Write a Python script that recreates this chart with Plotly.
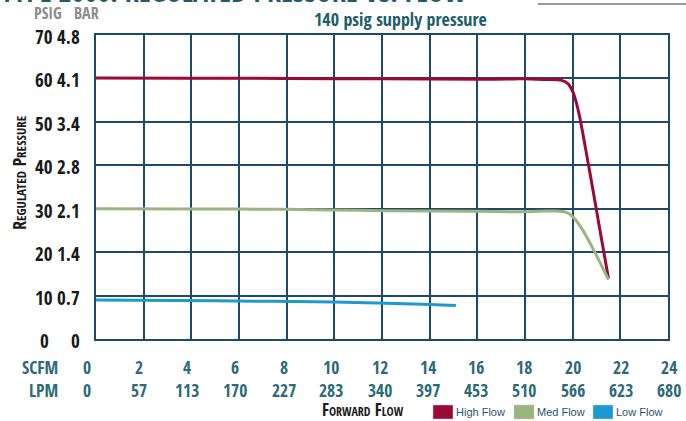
import plotly.graph_objects as go

# ---- data ----
high_x = [0, 4, 8, 12, 16, 17.5, 18, 18.5, 19, 19.5, 19.8, 20.0, 20.15, 20.3, 20.7, 21.1, 21.5]
high_y = [60.1, 60.05, 60.0, 59.9, 59.8, 59.85, 59.95, 59.8, 59.75, 59.6, 58.8, 57.0, 54.5, 51.0, 39.0, 26.5, 14.0]
med_x = [0, 4, 8, 10, 12, 16, 18, 18.8, 19.3, 19.7, 20.0, 20.4, 20.9, 21.5]
med_y = [30.0, 29.95, 29.85, 29.7, 29.55, 29.4, 29.3, 29.45, 29.45, 29.2, 28.2, 25.3, 20.3, 13.7]
low_x = [0, 5, 10, 13.7, 15.1]
low_y = [9.0, 8.8, 8.5, 8.0, 7.7]

series_names = ["High Flow", "Med Flow", "Low Flow"]
series_colors = ["#9b0a36", "#9cb47f", "#1a9ad0"]

scfm_ticks = [0, 2, 4, 6, 8, 10, 12, 14, 16, 18, 20, 22, 24]
lpm_labels = ["0", "57", "113", "170", "227", "283", "340", "397", "453", "510", "566", "623", "680"]
psig_ticks = [0, 10, 20, 30, 40, 50, 60, 70]
bar_labels = ["0", "0.7", "1.4", "2.1", "2.8", "3.4", "4.1", "4.8"]

W, H = 686, 421
L, R, T, B = 96, 668, 35, 339
COND = "Open Sans Condensed"
GRID = "#1d4a6b"
TEAL = "#2b6a78"


def px(x):
    return (x - L) / (R - L)


def py(y):
    return (B - y) / (B - T)


fig = go.Figure()
for xs, ys, name, col in zip([high_x, med_x, low_x], [high_y, med_y, low_y], series_names, series_colors):
    fig.add_trace(go.Scatter(x=xs, y=ys, mode="lines", name=name,
                             line=dict(color=col, width=3, shape="spline", smoothing=0.6),
                             showlegend=False, hoverinfo="skip"))

ann = []
# x tick labels: SCFM row and LPM row, stacked in one text per column
for v, lp in zip(scfm_ticks, lpm_labels):
    sh = -9 if v == 0 else round(-5.2 + 0.26 * v)
    ann.append(dict(x=v, xref="x", y=py(378), yref="paper", text=f"{v}<br>{lp}", showarrow=False,
                    xshift=sh, align="center", borderpad=0, font=dict(family=COND, size=17.5, color=TEAL),
                    xanchor="center", yanchor="middle"))
ann.append(dict(x=px(59), xref="paper", y=py(378), yref="paper", text="SCFM<br>LPM", showarrow=False,
                align="right", xanchor="right", yanchor="middle", borderpad=0,
                font=dict(family=COND, size=17.5, color=TEAL)))

# y tick labels (PSIG and BAR columns)
for v, b in zip(psig_ticks, bar_labels):
    ann.append(dict(x=px(44), xref="paper", y=v, yref="y", yshift=-2, text=str(v), showarrow=False,
                    borderpad=0, xanchor="center", yanchor="middle", font=dict(family=COND, size=19, color="#1a1a1a")))
    ann.append(dict(x=px(81), xref="paper", y=v, yref="y", yshift=-2, text=b, showarrow=False,
                    borderpad=0, xanchor="right", yanchor="middle", font=dict(family=COND, size=19, color="#1a1a1a")))

# column headers
ann.append(dict(x=px(48), xref="paper", y=py(13), yref="paper", text="PSIG", showarrow=False, borderpad=0,
                xanchor="center", yanchor="middle", font=dict(family=COND, size=16, color="#8c8c8c")))
ann.append(dict(x=px(86), xref="paper", y=py(13), yref="paper", text="BAR", showarrow=False, borderpad=0,
                xanchor="center", yanchor="middle", font=dict(family=COND, size=16, color="#8c8c8c")))

# subtitle
ann.append(dict(x=px(400), xref="paper", y=py(19), yref="paper", text="140 psig supply pressure", showarrow=False,
                borderpad=0, xanchor="center", yanchor="middle", font=dict(family=COND, size=18, color="#1e5e6a")))

# cut-off main title at very top (only its lower edge is visible, as in the reference)
ann.append(dict(x=px(0), xref="paper", y=py(11), yref="paper",
                text="TYPE 2000: REGULATED PRESSURE VS. FLOW", showarrow=False, borderpad=0,
                xanchor="left", yanchor="bottom", font=dict(family=COND, size=28, color="#1e5e6a")))

# y axis title (small caps)
ann.append(dict(x=px(19), xref="paper", y=py(173), yref="paper",
                text="Regulated Pressure", borderpad=0,
                showarrow=False, textangle=-90, xanchor="center", yanchor="middle",
                font=dict(family=COND, size=18, color="#1a1a1a", variant="small-caps")))

# x axis title (small caps)
ann.append(dict(x=px(363), xref="paper", y=py(409.5), yref="paper",
                text="Forward Flow", borderpad=0,
                showarrow=False, xanchor="center", yanchor="middle",
                font=dict(family=COND, size=17, color="#1a1a1a", variant="small-caps")))

shapes = []
# legend boxes + labels
box_x = [433, 514, 593]
for bx, name, col in zip(box_x, series_names, series_colors):
    shapes.append(dict(type="rect", xref="paper", yref="paper", x0=px(bx), x1=px(bx + 20),
                       y0=py(419), y1=py(405), fillcolor=col, line=dict(color="#cccccc", width=0.5)))
    ann.append(dict(x=px(bx + 22), xref="paper", y=py(412), yref="paper", text=name, showarrow=False,
                    borderpad=0, xanchor="left", yanchor="middle",
                    font=dict(family="Liberation Sans, Arial", size=11, color="#2a5470")))

# grey rule at top right
shapes.append(dict(type="line", xref="paper", yref="paper", x0=px(538), x1=px(690), y0=py(4), y1=py(4),
                   line=dict(color="#9a9a9a", width=2)))

fig.update_layout(
    width=W, height=H,
    margin=dict(l=L, r=W - R, t=T, b=H - B, pad=0),
    paper_bgcolor="white", plot_bgcolor="white",
    annotations=ann, shapes=shapes, showlegend=False,
)
fig.update_xaxes(range=[0, 24], dtick=2, tick0=0, showgrid=True, gridcolor=GRID, gridwidth=1.5,
                 showticklabels=False, zeroline=False, showline=True, linecolor=GRID, linewidth=1.5,
                 mirror=True, ticks="")
fig.update_yaxes(range=[0, 70], dtick=10, tick0=0, showgrid=True, gridcolor=GRID, gridwidth=1.5,
                 showticklabels=False, zeroline=False, showline=True, linecolor=GRID, linewidth=1.5,
                 mirror=True, ticks="")

fig.write_html("out.html", config={"displayModeBar": False},
               post_script="document.body.style.margin='0';document.body.style.overflow='hidden';")
